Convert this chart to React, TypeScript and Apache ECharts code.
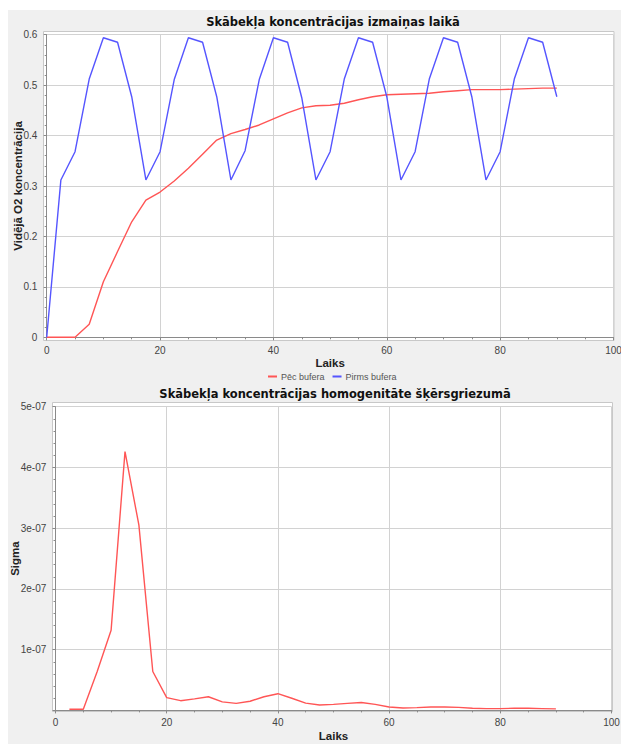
import React, { useEffect, useRef } from "react";
import * as echarts from "echarts";

const timeTop = [0, 2.5, 5, 7.5, 10, 12.5, 15, 17.5, 20, 22.5, 25, 27.5, 30, 32.5, 35, 37.5, 40, 42.5, 45, 47.5, 50, 52.5, 55, 57.5, 60, 62.5, 65, 67.5, 70, 72.5, 75, 77.5, 80, 82.5, 85, 87.5, 90];
const pecBufera = [0, 0, 0, 0.026, 0.11, 0.17, 0.229, 0.272, 0.288, 0.31, 0.335, 0.363, 0.391, 0.404, 0.412, 0.421, 0.433, 0.445, 0.455, 0.459, 0.46, 0.464, 0.471, 0.477, 0.481, 0.482, 0.483, 0.484, 0.487, 0.489, 0.491, 0.491, 0.491, 0.492, 0.493, 0.494, 0.494];
const pirmsBufera = [0, 0.312, 0.368, 0.512, 0.594, 0.585, 0.477, 0.312, 0.368, 0.511, 0.594, 0.585, 0.477, 0.312, 0.37, 0.511, 0.594, 0.585, 0.475, 0.312, 0.368, 0.512, 0.594, 0.585, 0.477, 0.312, 0.368, 0.512, 0.594, 0.585, 0.477, 0.312, 0.368, 0.512, 0.594, 0.585, 0.477];

const timeBottom = [2.5, 5, 7.5, 10, 12.5, 15, 17.5, 20, 22.5, 25, 27.5, 30, 32.5, 35, 37.5, 40, 42.5, 45, 47.5, 50, 52.5, 55, 57.5, 60, 62.5, 65, 67.5, 70, 72.5, 75, 77.5, 80, 82.5, 85, 87.5, 90];
const sigma = [2e-9, 2e-9, 6.4e-8, 1.32e-7, 4.26e-7, 3.05e-7, 6.4e-8, 2.1e-8, 1.6e-8, 1.9e-8, 2.25e-8, 1.4e-8, 1.15e-8, 1.5e-8, 2.25e-8, 2.75e-8, 2.0e-8, 1.2e-8, 9e-9, 1.0e-8, 1.15e-8, 1.3e-8, 1.0e-8, 5.5e-9, 4e-9, 4.5e-9, 5.5e-9, 5.5e-9, 5e-9, 3.5e-9, 3e-9, 3e-9, 3.5e-9, 3.5e-9, 3e-9, 2.5e-9];

const titleTop = "Skābekļa koncentrācijas izmaiņas laikā";
const titleBottom = "Skābekļa koncentrācijas homogenitāte šķērsgriezumā";
const FONT = "Liberation Sans, Arial, sans-serif";
const TFONT = "DejaVu Sans, sans-serif";

export default function App() {
  const ref = useRef<HTMLDivElement>(null);
  useEffect(() => {
    document.body.style.margin = "0";
    const chart = echarts.init(ref.current!, undefined, { renderer: "svg" });
    const axisLine = { lineStyle: { color: "#8a8a8a", width: 1 } };
    const axisTick = { length: 3, lineStyle: { color: "#8a8a8a" } };
    const splitLine = { lineStyle: { color: "#d2d2d2", width: 1 } };
    const label = { fontSize: 10, color: "#444", fontFamily: FONT };
    const nameStyle = { fontSize: 11.5, fontWeight: "bold" as const, color: "#222", fontFamily: FONT };
    chart.setOption({
      animation: false,
      backgroundColor: "#ffffff",
      textStyle: { fontFamily: FONT },
      graphic: [
        { type: "rect", z: -20, shape: { x: 8, y: 10, width: 613, height: 734 }, style: { fill: "#f0f0f0" } },
        { type: "rect", z: -10, shape: { x: 43.5, y: 31.5, width: 570.5, height: 309 }, style: { fill: "#ffffff", stroke: "#c8c8c8", lineWidth: 1 } },
        { type: "rect", z: -10, shape: { x: 52.5, y: 402.5, width: 560, height: 309 }, style: { fill: "#ffffff", stroke: "#c8c8c8", lineWidth: 1 } },
      ],
      title: [
        { text: titleTop, left: 333, top: 16, textAlign: "center", padding: 0, textStyle: { fontSize: 11.5, fontWeight: "bold", color: "#111", fontFamily: TFONT } },
        { text: titleBottom, left: 335, top: 388, textAlign: "center", padding: 0, textStyle: { fontSize: 11.5, fontWeight: "bold", color: "#111", fontFamily: TFONT } },
      ],
      legend: {
        left: 268,
        top: 372,
        padding: 0,
        itemGap: 8,
        itemWidth: 9,
        itemHeight: 2,
        icon: "rect",
        textStyle: { fontSize: 9, color: "#555", fontFamily: FONT, padding: [0, 0, 0, -1] },
        data: ["Pēc bufera", "Pirms bufera"],
      },
      grid: [
        { left: 46.7, right: 7.5, top: 34.7, bottom: 406.7, outerBoundsMode: "none", containLabel: false },
        { left: 55.5, right: 9.5, top: 406.7, bottom: 33.6, outerBoundsMode: "none", containLabel: false },
      ],
      xAxis: [
        {
          type: "value", gridIndex: 0, min: 0, max: 100, interval: 20, offset: 3.4,
          axisLine, axisTick, splitLine,
          minorTick: { show: true, splitNumber: 4, length: 2, lineStyle: { color: "#8a8a8a" } },
          axisLabel: { ...label, margin: 5 },
          name: "Laiks", nameLocation: "middle", nameGap: 16, nameTextStyle: nameStyle,
        },
        {
          type: "value", gridIndex: 1, min: 0, max: 100, interval: 20, offset: 1.3,
          axisLine, axisTick, splitLine,
          minorTick: { show: true, splitNumber: 4, length: 2, lineStyle: { color: "#8a8a8a" } },
          axisLabel: { ...label, margin: 6 },
          name: "Laiks", nameLocation: "middle", nameGap: 18, nameTextStyle: nameStyle,
        },
      ],
      yAxis: [
        {
          type: "value", gridIndex: 0, min: 0, max: 0.6, interval: 0.1, offset: 3.4,
          axisLine: { show: true, ...axisLine }, axisTick: { show: true, ...axisTick }, splitLine,
          minorTick: { show: true, splitNumber: 5, length: 2, lineStyle: { color: "#8a8a8a" } },
          axisLabel: { ...label, margin: 6 },
          name: "Vidējā O2 koncentrācija", nameLocation: "middle", nameGap: 19, nameMoveOverlap: false, nameTextStyle: nameStyle,
        },
        {
          type: "value", gridIndex: 1, min: 0, max: 5e-7, interval: 1e-7, offset: 3.2,
          axisLine: { show: true, ...axisLine }, axisTick: { show: true, ...axisTick }, splitLine,
          minorTick: { show: true, splitNumber: 5, length: 2, lineStyle: { color: "#8a8a8a" } },
          axisLabel: {
            ...label, margin: 6, showMinLabel: false,
            formatter: (v: number) => `${Math.round(v * 1e7)}e-07`,
          },
          name: "Sigma", nameLocation: "middle", nameGap: 31, nameMoveOverlap: false, nameTextStyle: nameStyle,
        },
      ],
      series: [
        {
          name: "Pēc bufera", type: "line", xAxisIndex: 0, yAxisIndex: 0, showSymbol: false,
          color: "#ff5555", lineStyle: { width: 1.4, color: "#ff5555" },
          data: timeTop.map((t, i) => [t, pecBufera[i]]),
        },
        {
          name: "Pirms bufera", type: "line", xAxisIndex: 0, yAxisIndex: 0, showSymbol: false,
          color: "#5555ff", lineStyle: { width: 1.4, color: "#5555ff" },
          data: timeTop.map((t, i) => [t, pirmsBufera[i]]),
        },
        {
          name: "Sigma", type: "line", xAxisIndex: 1, yAxisIndex: 1, showSymbol: false,
          color: "#ff5555", lineStyle: { width: 1.4, color: "#ff5555" },
          data: timeBottom.map((t, i) => [t, sigma[i]]),
        },
      ],
    });
    return () => chart.dispose();
  }, []);
  return <div ref={ref} style={{ position: "fixed", left: 0, top: 0, width: 621, height: 744 }} />;
}
